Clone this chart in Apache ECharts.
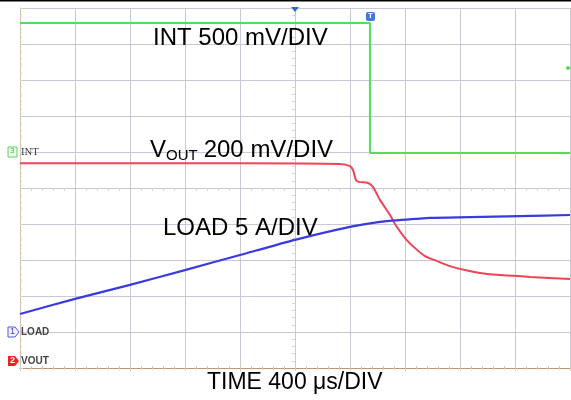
<!DOCTYPE html>
<html>
<head>
<meta charset="utf-8">
<script src="https://cdn.jsdelivr.net/npm/echarts@6/dist/echarts.min.js"></script>
<style>
html,body{margin:0;padding:0;background:#fff;}
#c{width:571px;height:400px;}
</style>
</head>
<body>
<div id="c"></div>
<script>
// time axis (µs), 400 µs/div, 10 divisions
const timeTicks = [0, 400, 800, 1200, 1600, 2000, 2400, 2800, 3200, 3600, 4000];
// vertical positions in screen divisions (0 = bottom, 10 = top)
const intTrace = [[0, 9.58], [2545, 9.58], [2545, 5.97], [4000, 5.97]];
const voutTrace = [
  [0, 5.69], [800, 5.69], [1600, 5.69], [2327, 5.67], [2400, 5.61], [2422, 5.5],
  [2444, 5.22], [2465, 5.17], [2531, 5.14], [2567, 5.03], [2618, 4.67],
  [2691, 4.25], [2727, 4.0], [2800, 3.61], [2873, 3.33], [2945, 3.11],
  [3033, 2.97], [3127, 2.83], [3236, 2.72], [3345, 2.64], [3491, 2.58],
  [3709, 2.53], [4000, 2.47]
];
const loadTrace = [
  [0, 1.5], [400, 1.92], [800, 2.31], [1200, 2.72], [1600, 3.14], [2000, 3.56],
  [2400, 3.92], [2618, 4.06], [2764, 4.11], [2982, 4.17], [3273, 4.19],
  [3636, 4.22], [4000, 4.25]
];

const chart = echarts.init(document.getElementById('c'), null, {renderer: 'canvas'});
const gridCol = '#c9c9d6';
const frameCol = '#b89878';
const font = '"Liberation Sans", Arial, sans-serif';

chart.setOption({
  animation: false,
  backgroundColor: '#ffffff',
  grid: {left: 20, right: 1, top: 8, bottom: 32, containLabel: false},
  xAxis: [
    {type: 'value', min: 0, max: 4000, interval: 400, position: 'bottom',
     axisLine: {show: true, lineStyle: {color: frameCol, width: 1}},
     axisTick: {show: true, inside: true, length: 3, lineStyle: {color: '#d8c8b8'}},
     minorTick: {show: true, splitNumber: 5, length: 2, lineStyle: {color: '#d8c8b8'}},
     axisLabel: {show: false},
     splitLine: {show: true, lineStyle: {color: gridCol, width: 1}}},
    {type: 'value', min: 0, max: 4000, interval: 400, position: 'top',
     axisLine: {show: true, lineStyle: {color: frameCol, width: 1}},
     axisTick: {show: true, inside: true, length: 3, lineStyle: {color: '#d8c8b8'}},
     minorTick: {show: true, splitNumber: 5, length: 2, lineStyle: {color: '#d8c8b8'}},
     axisLabel: {show: false}, splitLine: {show: false}},
    {type: 'value', min: 0, max: 4000, interval: 400, position: 'bottom', offset: -180,
     axisLine: {show: false},
     axisTick: {show: false},
     minorTick: {show: true, splitNumber: 5, length: 3, lineStyle: {color: '#d4d4dc'}},
     axisLabel: {show: false}, splitLine: {show: false}}
  ],
  yAxis: [
    {type: 'value', min: 0, max: 10, interval: 1, position: 'left',
     axisLine: {show: true, lineStyle: {color: '#d0c0b0', width: 1}},
     axisTick: {show: true, inside: true, length: 3, lineStyle: {color: '#ddd0c4'}},
     minorTick: {show: true, splitNumber: 5, length: 2, lineStyle: {color: '#ddd0c4'}},
     axisLabel: {show: false},
     splitLine: {show: true, lineStyle: {color: gridCol, width: 1}}},
    {type: 'value', min: 0, max: 10, interval: 1, position: 'left', offset: -275,
     axisLine: {show: false}, axisTick: {show: false},
     minorTick: {show: true, splitNumber: 5, length: 3, lineStyle: {color: '#d4d4dc'}},
     axisLabel: {show: false}, splitLine: {show: false}}
  ],
  series: [
    {type: 'line', name: 'INT', data: intTrace, symbol: 'none', xAxisIndex: 0, yAxisIndex: 0,
     lineStyle: {color: '#55dd55', width: 2}, z: 3},
    {type: 'line', name: 'VOUT', data: voutTrace, symbol: 'none', smooth: 0.2, xAxisIndex: 0, yAxisIndex: 0,
     lineStyle: {color: '#ee4455', width: 2}, z: 4},
    {type: 'line', name: 'LOAD', data: loadTrace, symbol: 'none', smooth: 0.2, xAxisIndex: 0, yAxisIndex: 0,
     lineStyle: {color: '#3a3ae0', width: 2.2}, z: 5}
  ],
  graphic: [
    {type: 'rect', shape: {x: 0, y: 0, width: 571, height: 1.5}, style: {fill: '#000'}, z: 100},
    {type: 'text', left: 153, top: 26, style: {text: 'INT 500 mV/DIV', font: '24px ' + font, fill: '#000'}, z: 100},
    {type: 'text', left: 150, top: 138, style: {text: 'V', font: '24px ' + font, fill: '#000'}, z: 100},
    {type: 'text', left: 166, top: 148, style: {text: 'OUT', font: '15px ' + font, fill: '#000'}, z: 100},
    {type: 'text', left: 197, top: 138, style: {text: ' 200 mV/DIV', font: '24px ' + font, fill: '#000'}, z: 100},
    {type: 'text', left: 163, top: 216, style: {text: 'LOAD 5 A/DIV', font: '24px ' + font, fill: '#000'}, z: 100},
    {type: 'text', left: 207, top: 371, style: {text: 'TIME 400 \u03bcs/DIV', font: '23px ' + font, fill: '#000'}, z: 100},
    // channel markers
    {type: 'rect', shape: {x: 8, y: 147, width: 9, height: 10}, style: {fill: '#eaffea', stroke: '#66cc66', lineWidth: 1}, z: 100},
    {type: 'text', left: 10, top: 147, style: {text: '3', font: '8px ' + font, fill: '#55aa55'}, z: 101},
    {type: 'text', left: 21, top: 148, style: {text: 'INT', font: '9px "DejaVu Serif", serif', fill: '#333'}, z: 100},
    {type: 'polygon', shape: {points: [[8, 327], [15, 327], [19, 332], [15, 337], [8, 337]]}, style: {fill: '#f4f4ff', stroke: '#5555dd', lineWidth: 1}, z: 100},
    {type: 'text', left: 10, top: 327, style: {text: '1', font: '9px ' + font, fill: '#4444cc'}, z: 101},
    {type: 'text', left: 21, top: 327, style: {text: 'LOAD', font: 'bold 10px ' + font, fill: '#444'}, z: 100},
    {type: 'polygon', shape: {points: [[8, 356], [15, 356], [19, 361], [15, 366], [8, 366]]}, style: {fill: '#ee2222'}, z: 100},
    {type: 'text', left: 10, top: 356, style: {text: '2', font: 'bold 9px ' + font, fill: '#fff'}, z: 101},
    {type: 'text', left: 21, top: 356, style: {text: 'VOUT', font: 'bold 10px ' + font, fill: '#444'}, z: 100},
    // trigger markers
    {type: 'polygon', shape: {points: [[291, 7], [299, 7], [295, 12]]}, style: {fill: '#3366cc'}, z: 100},
    {type: 'rect', shape: {x: 366, y: 12, width: 9, height: 9, r: 2}, style: {fill: '#4477dd'}, z: 100},
    {type: 'text', left: 368, top: 12, style: {text: 'T', font: 'bold 8px ' + font, fill: '#fff'}, z: 101},
    {type: 'circle', shape: {cx: 568, cy: 68, r: 2}, style: {fill: '#55dd55'}, z: 100}
  ]
});
</script>
</body>
</html>
